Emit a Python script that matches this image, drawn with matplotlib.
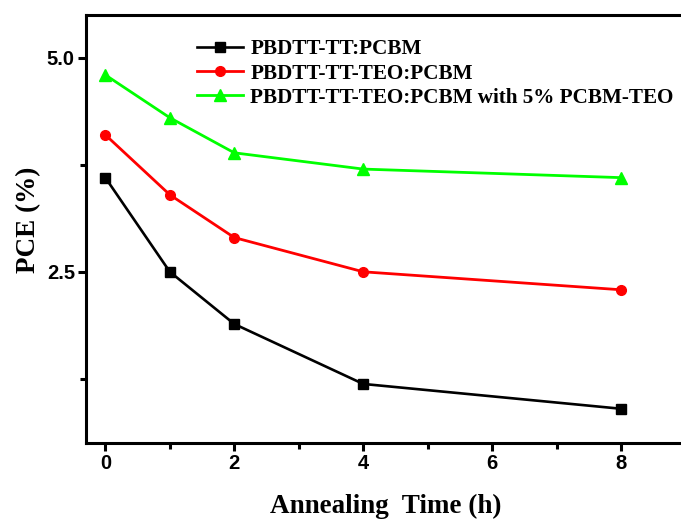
import matplotlib
matplotlib.use("Agg")
import matplotlib.pyplot as plt
from matplotlib.ticker import MultipleLocator

# PCE vs annealing time for the three blends
time_h = [0, 1, 2, 4, 8]
pce_tt = [3.60, 2.50, 1.89, 1.19, 0.90]
pce_teo = [4.10, 3.40, 2.90, 2.50, 2.29]
pce_teo_5 = [4.80, 4.30, 3.89, 3.70, 3.60]

labels = ["PBDTT-TT:PCBM",
          "PBDTT-TT-TEO:PCBM",
          "PBDTT-TT-TEO:PCBM with 5% PCBM-TEO"]

fig = plt.figure(figsize=(6.81, 5.21), dpi=100)
ax = fig.add_axes([86/681, 78/521, 606/681, 428/521])

ax.plot(time_h, pce_tt, color="black", lw=1.9, marker="s", ms=6.5, label=labels[0])
ax.plot(time_h, pce_teo, color="#ff0000", lw=2.0, marker="o", ms=7, label=labels[1])
ax.plot(time_h, pce_teo_5, color="#00ff00", lw=2.0, marker="^", ms=8, label=labels[2])

ax.set_xlim(-0.3, 9.1)
ax.set_ylim(0.5, 5.5)
ax.xaxis.set_major_locator(MultipleLocator(2))
ax.xaxis.set_minor_locator(MultipleLocator(1))
ax.yaxis.set_major_locator(MultipleLocator(2.5))
ax.yaxis.set_minor_locator(MultipleLocator(1.25))

for s in ax.spines.values():
    s.set_linewidth(2.2)
ax.tick_params(which="major", direction="out", length=5.5, width=2.2,
               labelsize=14.5, pad=2.5)
ax.tick_params(which="minor", direction="out", length=4.5, width=2.2)
for lab in ax.get_xticklabels() + ax.get_yticklabels():
    lab.set_fontfamily("Liberation Sans")
    lab.set_fontweight("bold")

serif = {"family": "Liberation Serif", "weight": "bold", "size": 19.5}
ax.set_xlabel("Annealing  Time (h)", fontdict=serif)
ax.set_ylabel("PCE (%)", fontdict=serif)
ax.xaxis.set_label_coords(0.494, -0.119)
ax.yaxis.set_label_coords(-0.074, 0.521)

ax.legend(loc="upper left", bbox_to_anchor=(0.183, 0.943), frameon=False,
          prop={"family": "Liberation Serif", "weight": "bold", "size": 15.2},
          handlelength=2.2, handletextpad=0.33, labelspacing=0.2,
          borderpad=0, borderaxespad=0)

fig.savefig("out.png", dpi=100)
